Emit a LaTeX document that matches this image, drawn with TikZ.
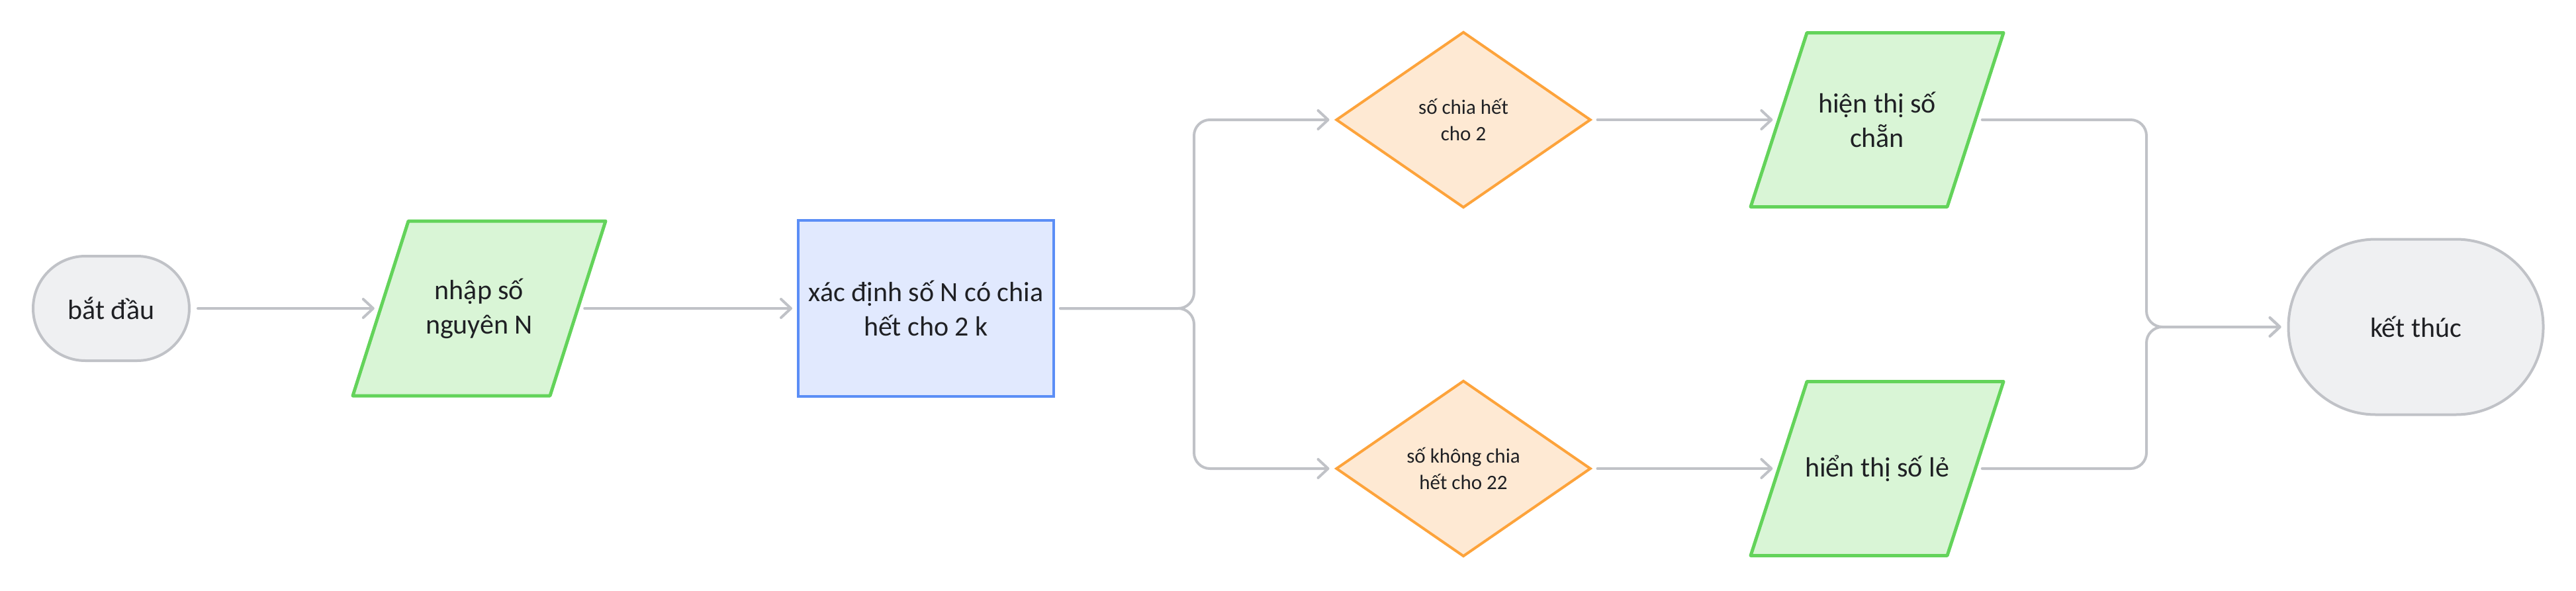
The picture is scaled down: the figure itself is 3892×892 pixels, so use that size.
\documentclass[tikz,border=0pt]{standalone}
\usepackage{fontspec}
\setmainfont{Carlito}
\usetikzlibrary{shapes.geometric,arrows.meta,calc}
\definecolor{connc}{RGB}{192,194,199}
\definecolor{termline}{RGB}{192,194,199}
\definecolor{termfill}{RGB}{239,240,242}
\definecolor{greenline}{RGB}{99,211,90}
\definecolor{greenfill}{RGB}{217,245,214}
\definecolor{blueline}{RGB}{91,142,246}
\definecolor{bluefill}{RGB}{225,233,254}
\definecolor{orangeline}{RGB}{253,163,59}
\definecolor{orangefill}{RGB}{254,233,211}
\definecolor{textc}{RGB}{31,32,36}
\newcommand\bigtxt{\fontsize{42}{52}\selectfont}
\newcommand\smalltxt{\fontsize{31}{40}\selectfont}
\begin{document}
\begin{tikzpicture}[x=1pt,y=-1pt,
  conn/.style={draw=connc, line width=4pt, line cap=round, line join=round,
    rounded corners=24pt, -{Straight Barb[length=15pt,width=28pt,round]}},
  termbox/.style={draw=termline, fill=termfill, line width=4pt, inner sep=0pt,
    align=center, text=textc, font=\bigtxt},
  procbox/.style={draw=blueline, fill=bluefill, line width=4pt, inner sep=0pt,
    minimum width=386pt, minimum height=266pt, align=center, text=textc, font=\bigtxt},
  decbox/.style={shape=diamond, draw=orangeline, fill=orangefill, line width=4pt,
    inner sep=0pt, aspect=1.45, minimum width=385pt, minimum height=266pt,
    align=center, text=textc, font=\smalltxt},
  paral/.style={draw=greenline, fill=greenfill, line width=5pt, line join=round},
  paratext/.style={inner sep=0pt, minimum width=298pt, minimum height=264pt,
    align=center, text=textc, font=\bigtxt}
]
\useasboundingbox (0,0) rectangle (3892,892);

% start
\node[termbox, minimum width=236pt, minimum height=158pt, rounded corners=79pt]
  (start) at (168,466) {bắt đầu};

% input
\coordinate (cin) at (724,466);
\draw[paral] ($(cin)+(-191,132)$) -- ($(cin)+(107,132)$) -- ($(cin)+(191,-132)$) -- ($(cin)+(-107,-132)$) -- cycle;
\node[paratext] (in) at (cin) {nhập số\\nguyên N};

% process
\node[procbox] (proc) at (1399,466) {xác định số N có chia\\hết cho 2 k};

% decisions
\node[decbox] (d1) at (2211,181) {số chia hết\\cho 2};
\node[decbox] (d2) at (2211,708) {số không chia\\hết cho 22};

% outputs
\coordinate (co1) at (2836,181);
\draw[paral] ($(co1)+(-191,131.5)$) -- ($(co1)+(106,131.5)$) -- ($(co1)+(191,-131.5)$) -- ($(co1)+(-106,-131.5)$) -- cycle;
\node[paratext, minimum width=297pt, minimum height=263pt] (o1) at (co1) {hiện thị số\\chẵn};

\coordinate (co2) at (2836,708);
\draw[paral] ($(co2)+(-191,131.5)$) -- ($(co2)+(106,131.5)$) -- ($(co2)+(191,-131.5)$) -- ($(co2)+(-106,-131.5)$) -- cycle;
\node[paratext, minimum width=297pt, minimum height=263pt] (o2) at (co2) {hiển thị số lẻ};

% end
\node[termbox, minimum width=385pt, minimum height=265pt, rounded corners=132pt]
  (end) at (3650,494) {kết thúc};

% connectors
\coordinate (split) at (1804,466);
\coordinate (merge) at (3243,494);
\draw[conn] ([xshift=11pt]start.east) -- ([xshift=-9pt]in.west);
\draw[conn] ([xshift=10pt]in.east) -- ([xshift=-7pt]proc.west);
\draw[conn] ([xshift=8pt]proc.east) -- (split) |- ([xshift=-8pt]d1.west);
\draw[conn] ([xshift=8pt]proc.east) -- (split) |- ([xshift=-8pt]d2.west);
\draw[conn] ([xshift=8pt]d1.east) -- ([xshift=-9pt]o1.west);
\draw[conn] ([xshift=8pt]d2.east) -- ([xshift=-9pt]o2.west);
\draw[conn] ([xshift=10pt]o1.east) -| (merge) -- ([xshift=-9pt]end.west);
\draw[conn] ([xshift=10pt]o2.east) -| (merge) -- ([xshift=-9pt]end.west);
\end{tikzpicture}
\end{document}
